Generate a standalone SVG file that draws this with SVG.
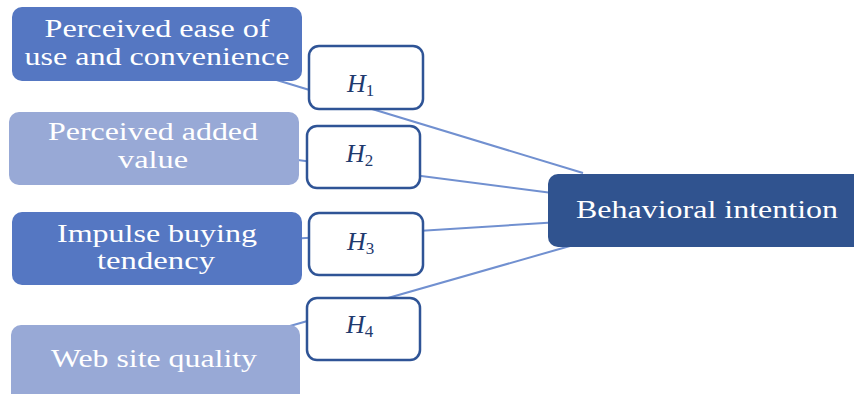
<svg xmlns="http://www.w3.org/2000/svg" width="854" height="394" viewBox="0 0 854 394">
<style>
.dark{fill:#5577C2}
.light{fill:#98A9D6}
.t{font-family:"Liberation Serif","Times New Roman",serif;font-size:25px;fill:#FFFFFF;text-anchor:middle}
.hb{fill:#FFFFFF;stroke:#2F5496;stroke-width:2.5}
.h{font-family:"Liberation Serif","Times New Roman",serif;font-style:italic;font-size:26px;fill:#1F3A6E}
.sub{font-size:17px;font-style:normal}
.c{stroke:#7190D0;stroke-width:2;fill:none}
</style>
<rect width="854" height="394" fill="#FFFFFF"/>
<g id="connectors">
<line class="c" x1="270" y1="78" x2="583" y2="173"/>
<line class="c" x1="290" y1="159" x2="560" y2="194"/>
<line class="c" x1="290" y1="239" x2="560" y2="222"/>
<line class="c" x1="290" y1="326" x2="570" y2="246"/>
</g>
<g id="n1">
<rect class="dark" x="12" y="7" width="290" height="74" rx="10"/>
<text class="t" x="157" y="37" textLength="225" lengthAdjust="spacingAndGlyphs">Perceived ease of</text>
<text class="t" x="157" y="65" textLength="265" lengthAdjust="spacingAndGlyphs">use and convenience</text>
</g>
<g id="n2">
<rect class="light" x="9" y="112" width="290" height="73" rx="10"/>
<text class="t" x="153" y="140" textLength="210" lengthAdjust="spacingAndGlyphs">Perceived added</text>
<text class="t" x="153" y="168" textLength="70" lengthAdjust="spacingAndGlyphs">value</text>
</g>
<g id="n3">
<rect class="dark" x="12" y="212" width="290" height="73" rx="10"/>
<text class="t" x="157" y="242" textLength="200" lengthAdjust="spacingAndGlyphs">Impulse buying</text>
<text class="t" x="156" y="269" textLength="118" lengthAdjust="spacingAndGlyphs">tendency</text>
</g>
<g id="n4">
<rect class="light" x="11" y="325" width="289" height="80" rx="10"/>
<text class="t" x="154" y="367" textLength="206" lengthAdjust="spacingAndGlyphs">Web site quality</text>
</g>
<g id="bi">
<rect x="548" y="174" width="320" height="73" rx="10" fill="#30538F"/>
<text class="t" x="707" y="218" textLength="262" lengthAdjust="spacingAndGlyphs">Behavioral intention</text>
</g>
<g id="h1">
<rect class="hb" x="309" y="46" width="114" height="63" rx="10"/>
<text class="h" x="347" y="92">H<tspan class="sub" dy="4">1</tspan></text>
</g>
<g id="h2">
<rect class="hb" x="307" y="126" width="113" height="62" rx="10"/>
<text class="h" x="346" y="162">H<tspan class="sub" dy="4">2</tspan></text>
</g>
<g id="h3">
<rect class="hb" x="309" y="213" width="114" height="62" rx="10"/>
<text class="h" x="347" y="250">H<tspan class="sub" dy="4">3</tspan></text>
</g>
<g id="h4">
<rect class="hb" x="307" y="298" width="113" height="62" rx="10"/>
<text class="h" x="346" y="333">H<tspan class="sub" dy="4">4</tspan></text>
</g>
</svg>
